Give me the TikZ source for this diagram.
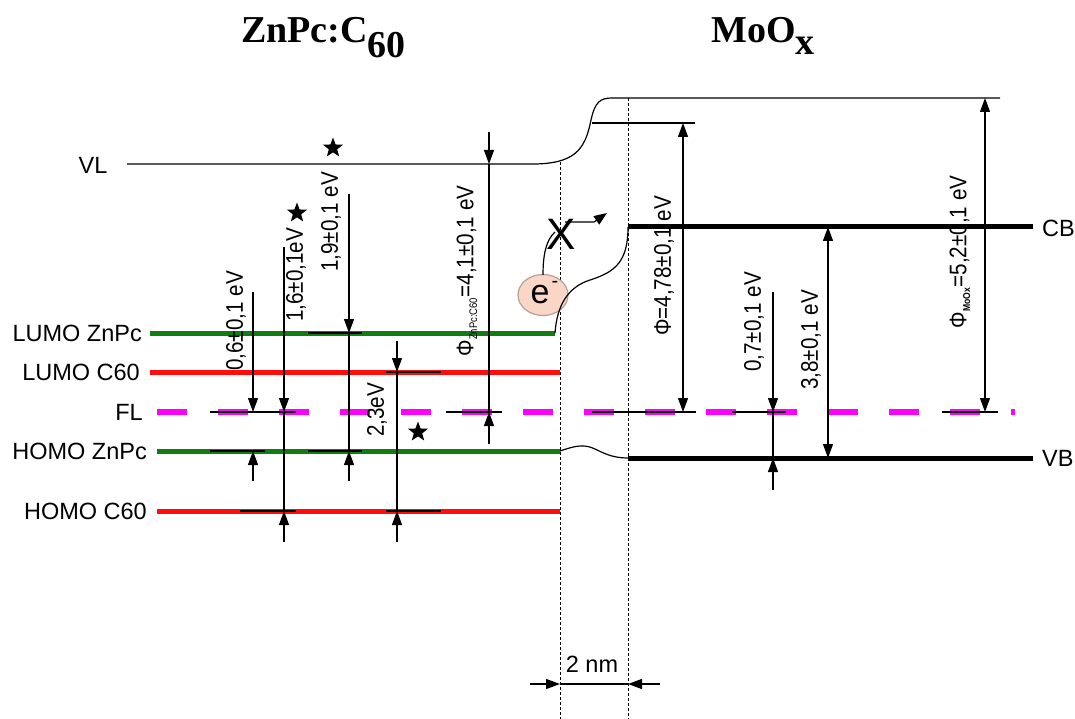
\documentclass[tikz,border=0pt]{standalone}
\usepackage{fontspec}
\setmainfont{Liberation Sans}
\newfontfamily\titlefont{Liberation Serif}
\usetikzlibrary{arrows.meta, shapes.geometric}
\definecolor{verde}{RGB}{16,125,16}
\definecolor{rosso}{RGB}{255,12,12}
\definecolor{fucsia}{RGB}{255,0,255}
\definecolor{elettrone}{RGB}{250,214,198}
\definecolor{bordoel}{RGB}{185,160,150}
\newcommand{\stretto}[1]{\scalebox{0.86}[1]{#1}}

\begin{document}
\begin{tikzpicture}[
  x=1pt, y=-1pt,
  font=\fontsize{23.5}{26}\selectfont,
  sottile/.style={draw=black, line width=1.2pt},
  livello/.style={line width=5pt},
  freccia/.style={sottile, -{Triangle[length=14pt,width=10pt]}},
  doppia/.style={sottile, {Triangle[length=14pt,width=10pt]}-{Triangle[length=14pt,width=10pt]}},
  etichetta/.style={inner sep=0pt},
  valore/.style={inner sep=0pt, rotate=90, font=\fontsize{24}{26}\selectfont},
  stella/.style={star, star points=5, star point ratio=2.4, fill=black,
                 inner sep=0pt, minimum size=21pt},
  titolo/.style={font=\titlefont\bfseries\fontsize{38}{42}\selectfont, inner sep=0pt},
  interfaccia/.style={draw=black, line width=0.9pt, dash pattern=on 3pt off 2pt}
]
\useasboundingbox (0,0) rectangle (1075,719);

% ---- titoli -----------------------------------------------------------
\node[titolo, anchor=base west] (tzn) at (241,43) {ZnPc:C\raisebox{-15pt}{60}};
\node[titolo, anchor=base west] (tmo) at (711,43) {MoO\raisebox{-12pt}{x}};

% ---- interfaccia (2 nm) ---------------------------------------------
\draw[interfaccia] (560,162) -- (560,719);
\draw[interfaccia] (628,98) -- (628,719);
\draw[freccia] (530,684) -- (560,684);
\draw[sottile] (560,684) -- (628,684);
\draw[freccia] (660,684) -- (628,684);
\node (nm) at (592,664) {2 nm};

% ---- livello di vuoto -------------------------------------------------
\node[etichetta] (lvl) at (93,165) {VL};
\draw[sottile] (127,164) -- (527,164)
  .. controls (575,165) and (585,150) .. (591,120)
  .. controls (595,102) and (600,98) .. (612,98) -- (1000,98);
\draw[sottile] (592,123) -- (695,123);

% ---- livelli ZnPc:C60 -------------------------------------------------
\draw[livello, verde] (150,333) -- (555,333);
\draw[livello, rosso] (150,372) -- (560,372);
\draw[livello, verde] (157,451) -- (560,451);
\draw[livello, rosso] (157,511) -- (560,511);
\draw[fucsia, line width=6pt, dash pattern=on 30pt off 31pt] (157,412) -- (1015,412);

\node[etichetta, anchor=east] (llz) at (142,333) {LUMO ZnPc};
\node[etichetta, anchor=east] (llc) at (140,372) {LUMO C60};
\node[etichetta, anchor=east] (lfl) at (143,412) {FL};
\node[etichetta, anchor=east] (lhz) at (147,451) {HOMO ZnPc};
\node[etichetta, anchor=east] (lhc) at (147,511) {HOMO C60};

% ---- livelli MoOx e raccordi ------------------------------------------
\draw[livello, black] (628,227) -- (1033,227);
\draw[livello, black] (628,458) -- (1033,458);
\node[etichetta, anchor=west] (lcb) at (1042,228) {CB};
\node[etichetta, anchor=west] (lvb) at (1042,458) {VB};

\draw[sottile] (560,451) .. controls (572,447) and (583,443) .. (595,449)
  .. controls (607,455) and (615,458) .. (628,458);

% ---- elettrone bloccato ----------------------------------------------
\node[ellipse, draw=bordoel, line width=1.2pt, fill=elettrone, minimum width=50pt,
      minimum height=41pt, inner sep=0pt] (el) at (543,295) {};
\node[inner sep=0pt, font=\fontsize{34}{34}\selectfont] (e) at (540,295) {e};
\node[inner sep=0pt, font=\fontsize{20}{20}\selectfont] (meno) at (555,284) {-};
\draw[sottile] (555,333) .. controls (557,305) and (568,287) .. (590,280)
  .. controls (615,272) and (628,262) .. (628,227);
\draw[sottile] (543,275) .. controls (543,255) and (546,240) .. (555,232);
\node[inner sep=0pt, font=\fontsize{44}{44}\selectfont] (blocco) at (561,234) {X};
\draw[sottile, -{Triangle[length=13pt,width=10pt]}]
  (565,222) -- (594,222) -- (607,213);

% ---- frecce lato ZnPc:C60 ---------------------------------------------
\draw[sottile] (210,412) -- (296,412);
\draw[sottile] (210,451) -- (265,451);
\draw[sottile] (240,511) -- (296,511);
\draw[sottile] (308,333) -- (362,333);
\draw[sottile] (308,451) -- (362,451);
\draw[sottile] (386,372) -- (441,372);
\draw[sottile] (386,511) -- (441,511);
\draw[sottile] (446,412) -- (502,412);

\draw[freccia] (253,292) -- (253,412);
\draw[freccia] (253,481) -- (253,451);

\draw[freccia] (284,247) -- (284,412);
\draw[sottile] (284,412) -- (284,511);
\draw[freccia] (284,542) -- (284,511);

\draw[freccia] (349,194) -- (349,333);
\draw[sottile] (349,333) -- (349,451);
\draw[freccia] (349,481) -- (349,451);

\draw[freccia] (397,341) -- (397,372);
\draw[sottile] (397,372) -- (397,511);
\draw[freccia] (397,542) -- (397,511);

\draw[freccia] (489,132) -- (489,164);
\draw[sottile] (489,164) -- (489,412);
\draw[freccia] (489,444) -- (489,412);

\node[valore] (v06) at (236,321) {\stretto{0,6±0,1 eV}};
\node[valore] (v16) at (296,275) {\stretto{1,6±0,1eV}};
\node[valore] (v19) at (331,222) {\stretto{1,9±0,1 eV}};
\node[valore] (v23) at (377,410) {\stretto{2,3eV}};
\node[valore] (v41) at (467,271)
     {\stretto{Φ\textsubscript{\fontsize{11}{11}\selectfont ZnPc:C60}=4,1±0,1 eV}};

% ---- frecce lato MoOx ---------------------------------------------------
\draw[sottile] (592,412) -- (696,412);
\draw[sottile] (732,412) -- (786,412);
\draw[sottile] (942,412) -- (998,412);

\draw[doppia] (683,123) -- (683,412);
\draw[freccia] (773,292) -- (773,412);
\draw[sottile] (773,412) -- (773,458);
\draw[freccia] (773,490) -- (773,458);
\draw[doppia] (828,227) -- (828,458);
\draw[doppia] (985,98) -- (985,412);

\node[valore] (v478) at (664,266) {\stretto{Φ=4,78±0,1 eV}};
\node[valore] (v07) at (754,322) {\stretto{0,7±0,1 eV}};
\node[valore] (v38) at (811,340) {\stretto{3,8±0,1 eV}};
\node[valore] (v52) at (960,252)
     {\stretto{Φ\textsubscript{\fontsize{10}{10}\selectfont\bfseries MoOx}=5,2±0,1 eV}};

% ---- stelle -------------------------------------------------------------
\node[stella] (s1) at (333,148) {};
\node[stella] (s2) at (297,213) {};
\node[stella] (s3) at (418,432) {};

\end{tikzpicture}
\end{document}
